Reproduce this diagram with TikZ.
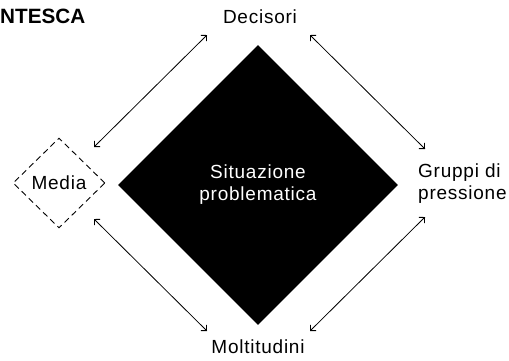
\documentclass[tikz,border=0pt]{standalone}
\usepackage{fontspec}
\setmainfont{Liberation Sans}[LetterSpace=4]
\newfontfamily\titlefont{Liberation Sans}[LetterSpace=0]
\usetikzlibrary{shapes.geometric,arrows.meta}
\tikzset{
  txt/.style={font=\fontsize{19}{22}\selectfont},
  lbl/.style={txt, inner sep=0pt, align=left},
  bigdiamond/.style={diamond, fill=black, text=white, minimum width=280pt, minimum height=280pt, inner sep=0pt, align=center, txt},
  mediabox/.style={diamond, draw, dash pattern=on 6pt off 4pt, line width=0.9pt, minimum width=92pt, minimum height=90pt, inner sep=0pt, txt},
  link/.style={{Straight Barb[length=4pt,width=8pt]}-{Straight Barb[length=4pt,width=8pt]}, line width=0.8pt}
}
\begin{document}
\begin{tikzpicture}[x=1pt,y=-1pt]
\useasboundingbox (0,0) rectangle (509,360);

% central problem area
\node[bigdiamond] (sit) at (258,185) {Situazione\\problematica};
% media
\node[mediabox] (media) at (59,183) {Media};

% actor labels
\node[lbl, anchor=base] (dec) at (260,23) {Decisori};
\node[lbl, anchor=base] (mol) at (258,353) {Moltitudini};
\node[lbl, anchor=base west] (grp) at (418,199) {Gruppi di\\pressione};
\node[font=\titlefont\bfseries\fontsize{20.7}{24}\selectfont, inner sep=0pt, anchor=base west] (title) at (0,23) {NTESCA};

% arrow ends
\coordinate (a1) at (94,147);  \coordinate (a2) at (207,35);
\coordinate (b1) at (310,35);  \coordinate (b2) at (425,149);
\coordinate (c1) at (94,219);  \coordinate (c2) at (207,331);
\coordinate (d1) at (310,331); \coordinate (d2) at (425,217);

\draw[link] (a1) -- (a2);
\draw[link] (b1) -- (b2);
\draw[link] (c1) -- (c2);
\draw[link] (d1) -- (d2);
\end{tikzpicture}
\end{document}
